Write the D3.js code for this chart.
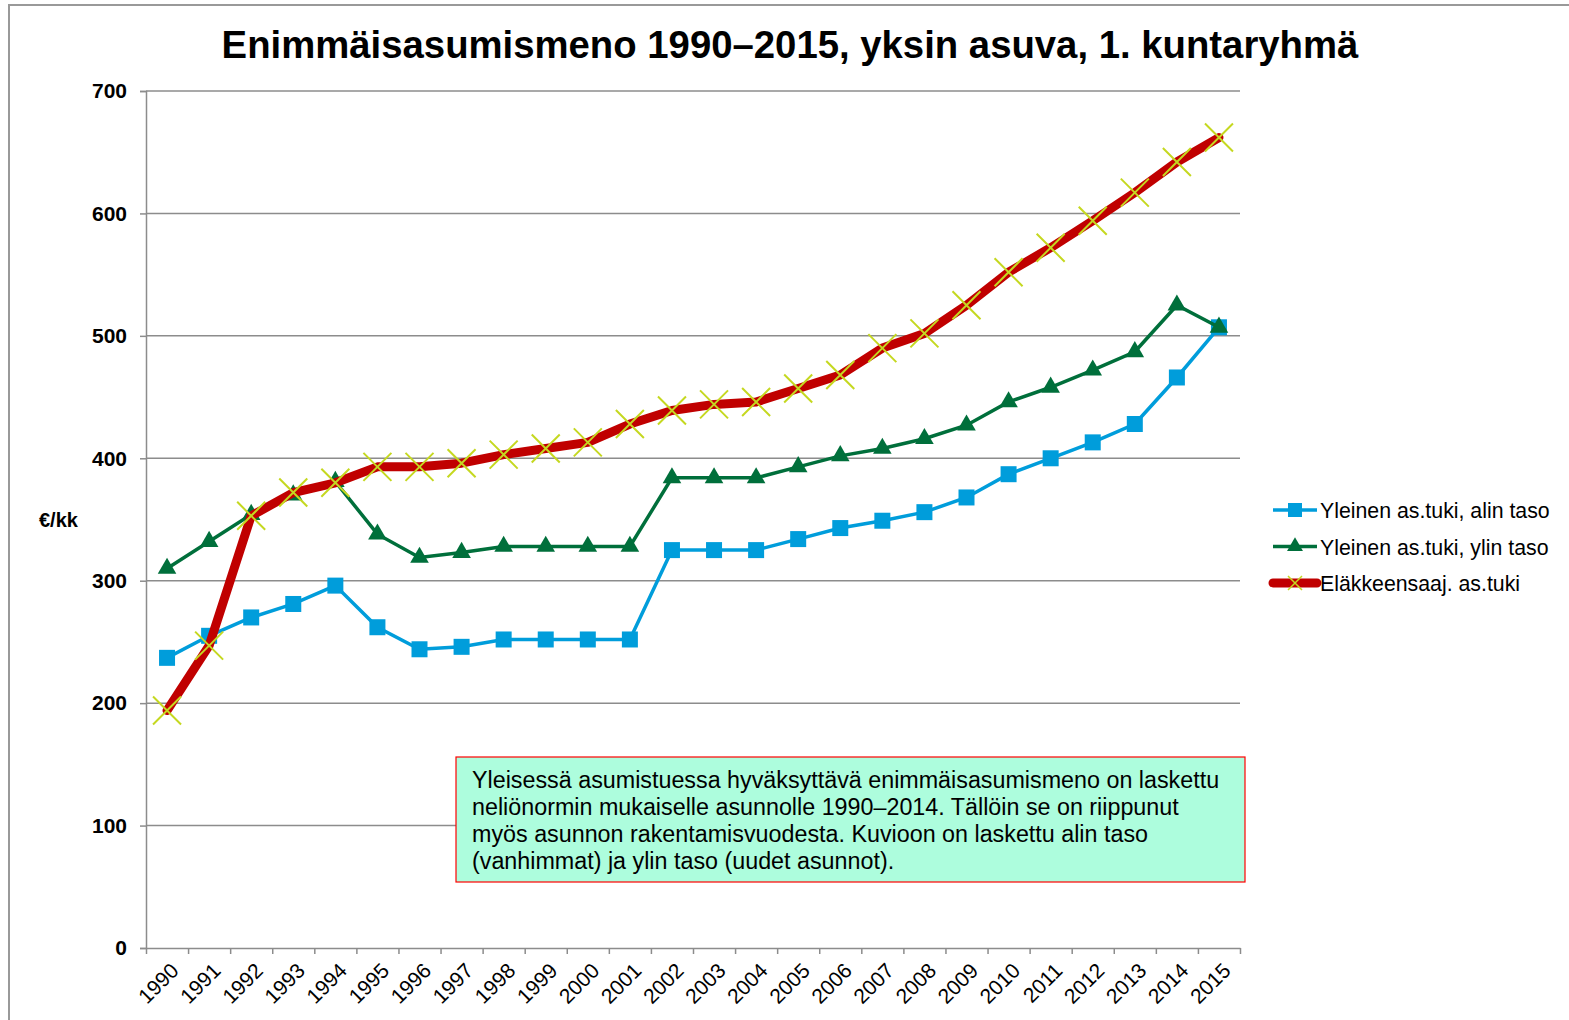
<!DOCTYPE html>
<html>
<head>
<meta charset="utf-8">
<script src="https://cdn.jsdelivr.net/npm/d3@7"></script>
<style>
  body { margin: 0; background: #fff; }
  svg { font-family: "Liberation Sans", Arial, sans-serif; }
</style>
</head>
<body>
<div id="chart"></div>
<script>
// data
const years = ["1990","1991","1992","1993","1994","1995","1996","1997","1998","1999","2000","2001","2002",
    "2003","2004","2005","2006","2007","2008","2009","2010","2011","2012","2013","2014","2015"];
const alinTaso = [237,255,270,281,296,262,244,246,252,252,252,252,325,325,325,334,343,349,356,368,387,400,413,428,466,507];
const ylinTaso = [310,332,354,370,381,338,319,323,328,328,328,328,384,384,384,393,402,408,416,427,446,458,472,487,525,507];
const elake = [194,247,353,372,380,393,393,396,403,408,413,428,439,444,446,457,468,490,502,525,552,572,594,617,642,662];
const yTicks = [0,100,200,300,400,500,600,700];
const noteLines = [
    "Yleisessä asumistuessa hyväksyttävä enimmäisasumismeno on laskettu",
    "neliönormin mukaiselle asunnolle 1990–2014. Tällöin se on riippunut",
    "myös asunnon rakentamisvuodesta. Kuvioon on laskettu alin taso",
    "(vanhimmat) ja ylin taso (uudet asunnot)."
];

const W = 1569, H = 1020;
const margin = {top: 91, right: 329, bottom: 72, left: 146},
    width = W - margin.left - margin.right,
    height = H - margin.top - margin.bottom;

const svg = d3.select("#chart")
  .append("svg")
    .attr("width", W)
    .attr("height", H);

// outer frame
svg.append("rect")
    .attr("x", 9).attr("y", 5)
    .attr("width", W).attr("height", H)
    .attr("fill", "none")
    .attr("stroke", "#999")
    .attr("stroke-width", 2);

// title
svg.append("text")
    .attr("x", 790).attr("y", 58)
    .attr("text-anchor", "middle")
    .style("font-size", "38.3px")
    .style("font-weight", "bold")
    .text("Enimmäisasumismeno 1990–2015, yksin asuva, 1. kuntaryhmä");

const g = svg.append("g")
    .attr("transform", `translate(${margin.left},${margin.top})`);

const x = d3.scaleBand().domain(years).range([0, width]).padding(0);
const xEdge = d3.scaleLinear().domain([0, years.length]).range([0, width]);
const y = d3.scaleLinear().domain([0, 700]).range([height, 0]);

// gridlines
g.append("g")
  .selectAll("line")
  .data(yTicks.filter(d => d > 0))
  .join("line")
    .attr("x1", 0).attr("x2", width)
    .attr("y1", d => y(d)).attr("y2", d => y(d))
    .attr("stroke", "#8c8c8c")
    .attr("stroke-width", 1.5);

// y axis
const yAxis = g.append("g")
    .call(d3.axisLeft(y).tickValues(yTicks).tickSize(6).tickPadding(13));
yAxis.select(".domain").attr("stroke", "#8c8c8c").attr("stroke-width", 1.5);
yAxis.selectAll(".tick line").attr("stroke", "#8c8c8c").attr("stroke-width", 1.5);
yAxis.selectAll(".tick text")
    .style("font-size", "21px").style("font-weight", "bold")
    .attr("fill", "#000").attr("font-family", null);

// x axis: tick marks on category edges
const xTickAxis = g.append("g")
    .attr("transform", `translate(0,${height})`)
    .call(d3.axisBottom(xEdge).tickValues(d3.range(years.length + 1)).tickFormat("").tickSize(6).tickSizeOuter(0));
xTickAxis.select(".domain").attr("stroke", "#8c8c8c").attr("stroke-width", 1.5);
xTickAxis.selectAll(".tick line").attr("stroke", "#8c8c8c").attr("stroke-width", 1.5);

// x labels rotated
const xLabels = g.append("g")
    .attr("transform", `translate(0,${height})`)
    .call(d3.axisBottom(x).tickSize(0).tickPadding(0));
xLabels.select(".domain").remove();
xLabels.selectAll(".tick text")
    .attr("font-family", null)
    .style("font-size", "21px")
    .attr("fill", "#000")
    .attr("text-anchor", "end")
    .attr("dy", null)
    .attr("transform", "translate(13,24) rotate(-45)")
    .attr("x", 0).attr("y", 0);

// y axis title
svg.append("text")
    .attr("x", 39).attr("y", 527)
    .style("font-size", "20px").style("font-weight", "bold")
    .text("€/kk");

const line = d3.line()
    .x((d, i) => x(years[i]) + x.bandwidth() / 2)
    .y(d => y(d));

const blue = "#009ddb", green = "#006f3b", red = "#c00000", crossCol = "#c5d820";

// series: alin taso
g.append("path").datum(alinTaso)
    .attr("d", line).attr("fill", "none")
    .attr("stroke", blue).attr("stroke-width", 3.5);
g.append("g").selectAll("rect")
  .data(alinTaso)
  .join("rect")
    .attr("x", (d, i) => x(years[i]) + x.bandwidth() / 2 - 8)
    .attr("y", d => y(d) - 8)
    .attr("width", 16).attr("height", 16)
    .attr("fill", blue);

// series: ylin taso
g.append("path").datum(ylinTaso)
    .attr("d", line).attr("fill", "none")
    .attr("stroke", green).attr("stroke-width", 3.5);
const tri = d3.symbol().type(d3.symbolTriangle).size(150);
g.append("g").selectAll("path")
  .data(ylinTaso)
  .join("path")
    .attr("d", tri)
    .attr("transform", (d, i) => `translate(${x(years[i]) + x.bandwidth() / 2},${y(d)})`)
    .attr("fill", green);

// series: eläkkeensaajien asumistuki
g.append("path").datum(elake)
    .attr("d", line).attr("fill", "none")
    .attr("stroke", red).attr("stroke-width", 9)
    .attr("stroke-linejoin", "round").attr("stroke-linecap", "round");
const cross = (cx, cy, s) => `M${cx - s},${cy - s}L${cx + s},${cy + s}M${cx - s},${cy + s}L${cx + s},${cy - s}`;
g.append("g").selectAll("path")
  .data(elake)
  .join("path")
    .attr("d", (d, i) => cross(x(years[i]) + x.bandwidth() / 2, y(d), 14))
    .attr("stroke", crossCol).attr("stroke-width", 2);

// legend
const legendItems = [
    {name: "Yleinen as.tuki, alin taso", color: blue, type: "square", w: 3.5},
    {name: "Yleinen as.tuki, ylin taso", color: green, type: "triangle", w: 3.5},
    {name: "Eläkkeensaaj. as.tuki", color: red, type: "cross", w: 9}
];
const legend = svg.append("g").attr("transform", "translate(1273,510)");
legendItems.forEach((it, i) => {
    const row = legend.append("g").attr("transform", `translate(0,${i * 36.5})`);
    row.append("line")
        .attr("x1", 0).attr("x2", 44).attr("y1", 0).attr("y2", 0)
        .attr("stroke", it.color).attr("stroke-width", it.w)
        .attr("stroke-linecap", it.type === "cross" ? "round" : "butt");
    if (it.type === "square") {
        row.append("rect").attr("x", 15).attr("y", -7).attr("width", 14).attr("height", 14).attr("fill", it.color);
    } else if (it.type === "triangle") {
        row.append("path").attr("d", d3.symbol().type(d3.symbolTriangle).size(110))
            .attr("transform", "translate(22,0)").attr("fill", it.color);
    } else {
        row.append("path").attr("d", cross(22, 0, 7)).attr("stroke", crossCol).attr("stroke-width", 1.5);
    }
    row.append("text")
        .attr("x", 47).attr("y", 8)
        .style("font-size", "21.3px")
        .text(it.name);
});

// note box
svg.append("rect")
    .attr("x", 456).attr("y", 757)
    .attr("width", 789).attr("height", 125)
    .attr("fill", "#adfddd")
    .attr("stroke", "#ff0000").attr("stroke-width", 1.2);
svg.append("g").selectAll("text")
  .data(noteLines)
  .join("text")
    .attr("x", 472)
    .attr("y", (d, i) => 788 + i * 27)
    .style("font-size", "23.3px")
    .text(d => d);
</script>
</body>
</html>
